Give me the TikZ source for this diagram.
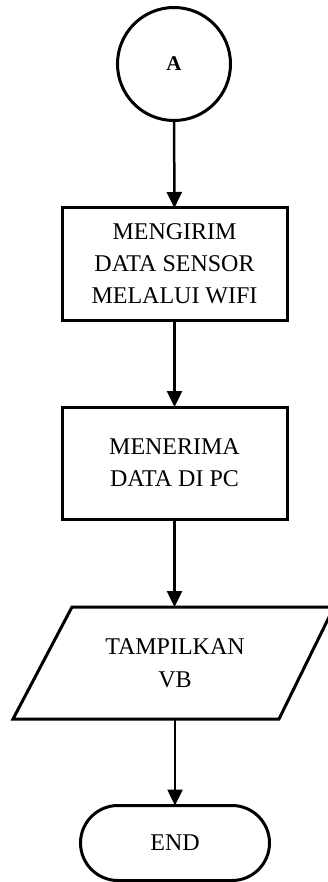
\documentclass[tikz,border=0pt]{standalone}
\usepackage{fontspec}
\setmainfont{Liberation Serif}
\usetikzlibrary{arrows.meta,shapes.misc}
\begin{document}
\begin{tikzpicture}[x=1pt,y=-1pt,
  every node/.style={inner sep=0pt,outer sep=0pt},
  flow/.style={line width=3pt, draw=black},
  procbox/.style={flow, rectangle, minimum width=225pt, minimum height=112pt, align=center, font=\fontsize{24}{32}\selectfont},
  conn/.style={line width=2.5pt, -{Triangle[width=15pt,length=16pt]}},
  txt/.style={align=center, font=\fontsize{24}{33}\selectfont}
]
\useasboundingbox (0,0) rectangle (327,882);
\fill[white] (0,0) rectangle (327,882);

\node[flow, circle, minimum size=113pt, font=\bfseries\fontsize{21}{22}\selectfont] (a) at (174,64) {A};
\node[procbox] (b1) at (174.5,264) {MENGIRIM\\DATA SENSOR\\MELALUI WIFI};
\node[procbox] (b2) at (174.5,463) {MENERIMA\\DATA DI PC};
\draw[flow, line join=miter] (72,607) -- (334,607) -- (279,719) -- (13,719) -- cycle;
\node[txt, rectangle, minimum width=200pt, minimum height=112pt] (p) at (175,663) {TAMPILKAN\\VB};
\node[flow, rounded rectangle, minimum width=189pt, minimum height=75pt, font=\fontsize{24}{26}\selectfont] (e) at (175,843) {END};

\draw[conn] (a) -- (b1);
\draw[conn] (b1) -- (b2);
\draw[conn] (b2) -- (b2 |- p.north);
\draw[conn] (p) -- (e);
\end{tikzpicture}
\end{document}
